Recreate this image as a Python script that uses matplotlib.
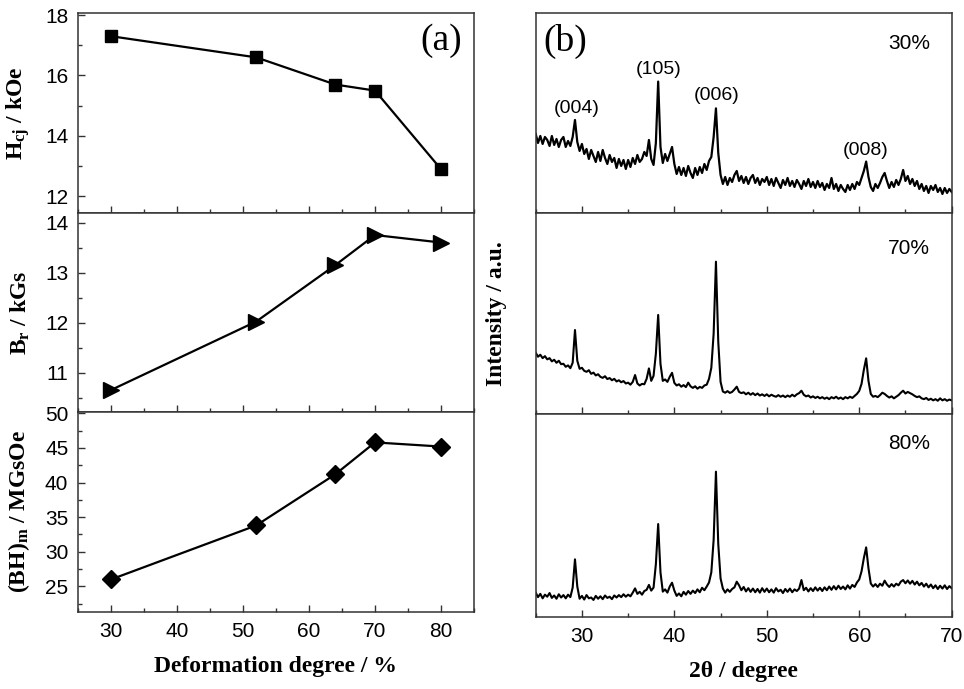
import numpy as np
import matplotlib
matplotlib.use("Agg")
import matplotlib.pyplot as plt
from matplotlib.ticker import MultipleLocator

plt.rcParams['font.family'] = ['Liberation Sans', 'DejaVu Sans']
plt.rcParams['mathtext.fontset'] = 'custom'
plt.rcParams['mathtext.rm'] = 'Liberation Serif:bold'
plt.rcParams['mathtext.it'] = 'Liberation Serif:bold:italic'
plt.rcParams['mathtext.bf'] = 'Liberation Serif:bold'

# (a) magnetic properties vs deformation degree
deformation = [30, 52, 64, 70, 80]
hcj = [17.3, 16.6, 15.7, 15.5, 12.9]          # kOe
br = [10.65, 12.02, 13.15, 13.75, 13.6]       # kGs
bh_max = [26.0, 33.8, 41.2, 45.8, 45.2]       # MGsOe

# (b) XRD patterns, 2theta from 25 to 70 deg in 0.25 deg steps
two_theta = np.arange(25.0, 70.001, 0.25)

xrd_30 = [
    39.5, 35.0, 38.5, 34.5, 38.0, 36.5, 33.5, 38.5, 34.0, 37.0, 33.0, 36.5, 38.0, 33.0, 36.0, 33.5, 38.0, 46.5, 35.5, 31.0,
    34.5, 29.5, 32.0, 27.0, 31.5, 28.5, 25.5, 30.5, 26.0, 31.5, 27.5, 24.5, 29.0, 25.5, 27.5, 22.5, 27.0, 23.5, 26.5, 22.0,
    26.5, 23.0, 27.5, 24.5, 29.0, 25.5, 27.0, 30.5, 28.5, 36.5, 27.0, 24.0, 35.0, 65.7, 33.0, 25.0, 29.5, 26.0, 29.5, 33.0,
    24.5, 19.5, 23.0, 19.0, 22.5, 18.5, 23.5, 20.0, 17.5, 22.5, 19.0, 23.0, 20.0, 24.5, 21.5, 26.0, 28.0, 38.0, 52.3, 30.0,
    19.0, 14.5, 18.0, 14.0, 17.5, 15.5, 19.0, 21.0, 16.0, 18.5, 15.0, 18.0, 14.5, 17.5, 19.0, 15.0, 17.5, 14.0, 17.0, 15.5,
    18.0, 14.0, 17.0, 13.5, 17.5, 15.0, 12.5, 16.5, 14.0, 17.5, 13.5, 16.0, 13.0, 16.5, 14.5, 12.0, 16.0, 13.5, 17.0, 13.0,
    15.5, 12.5, 16.0, 13.0, 15.0, 11.5, 14.5, 12.5, 17.5, 12.0, 14.5, 11.0, 14.0, 12.0, 10.5, 14.0, 11.5, 14.5, 12.0, 15.5,
    14.0, 17.5, 21.0, 25.7, 18.0, 13.0, 11.0, 14.5, 12.5, 15.0, 18.0, 20.0, 16.0, 12.5, 15.5, 13.0, 16.5, 14.0, 17.0, 21.5,
    16.0, 18.5, 14.5, 17.0, 13.5, 16.0, 12.0, 14.5, 11.0, 13.5, 10.0, 13.5, 11.5, 14.0, 10.5, 12.5, 9.5, 12.5, 10.0, 12.0,
    10.5,
]

xrd_70 = [
    30.5, 28.5, 29.5, 27.8, 28.8, 27.2, 27.8, 26.2, 27.0, 25.5, 26.5, 24.8, 25.0, 23.5, 24.2, 22.8, 25.5, 41.8, 26.5, 22.5,
    23.0, 21.5, 21.0, 21.8, 20.0, 20.6, 19.2, 19.8, 18.5, 18.0, 18.8, 17.4, 17.9, 16.8, 17.5, 16.2, 16.8, 15.8, 16.4, 15.2,
    15.6, 14.6, 16.0, 19.4, 15.2, 14.2, 15.0, 14.8, 17.5, 22.7, 16.5, 19.0, 30.0, 49.3, 25.0, 16.5, 17.2, 16.0, 18.5, 20.5,
    15.5, 14.2, 14.8, 13.6, 14.4, 13.4, 15.6, 13.8, 13.0, 13.8, 12.6, 13.5, 13.0, 14.2, 14.6, 17.5, 23.0, 40.0, 75.8, 36.0,
    16.0, 11.2, 10.6, 11.4, 10.5, 11.0, 12.2, 13.6, 11.0, 10.4, 10.8, 9.8, 10.6, 9.6, 10.4, 9.4, 10.2, 9.2, 9.8, 9.0,
    9.8, 8.8, 9.6, 9.0, 8.6, 9.4, 8.6, 9.2, 8.4, 9.2, 8.6, 9.6, 8.8, 9.8, 10.4, 11.6, 9.6, 8.8, 9.2, 8.2,
    8.8, 8.0, 8.6, 7.8, 8.4, 7.6, 8.2, 7.4, 8.4, 7.8, 8.6, 7.6, 8.2, 7.4, 8.4, 7.8, 8.6, 8.0, 9.0, 10.0,
    11.5, 15.0, 22.0, 27.7, 16.5, 10.0, 8.6, 9.0, 8.4, 9.4, 10.6, 10.0, 9.0, 8.2, 8.8, 7.8, 8.6, 9.4, 10.6, 11.6,
    10.2, 11.0, 10.4, 9.8, 9.0, 8.4, 8.8, 7.8, 7.4, 8.0, 7.0, 7.6, 6.8, 7.4, 6.6, 7.8, 6.8, 7.4, 6.6, 7.2,
    6.8,
]

xrd_80 = [
    12.0, 9.8, 11.4, 9.2, 11.0, 10.0, 11.8, 9.4, 10.6, 9.0, 11.2, 9.6, 10.8, 9.2, 11.0, 9.8, 14.5, 28.4, 15.0, 9.0,
    10.4, 8.6, 10.8, 9.2, 9.6, 8.4, 10.4, 9.0, 10.2, 8.8, 10.6, 9.4, 10.0, 8.8, 10.6, 9.6, 10.8, 9.8, 11.2, 10.0,
    11.0, 10.2, 12.0, 14.1, 11.4, 12.4, 11.0, 12.8, 13.4, 15.8, 13.0, 14.5, 26.0, 45.8, 22.0, 12.5, 13.6, 12.0, 15.0, 16.9,
    13.0, 10.4, 11.6, 10.2, 12.4, 11.0, 12.8, 11.4, 13.0, 11.8, 13.6, 12.2, 14.4, 13.2, 15.0, 17.0, 22.0, 38.0, 71.6, 36.0,
    19.0, 14.0, 12.0, 13.6, 12.4, 13.8, 14.6, 17.4, 15.6, 13.2, 14.8, 12.6, 14.2, 12.4, 14.0, 12.2, 13.8, 12.0, 14.2, 12.4,
    14.0, 12.2, 13.6, 12.0, 14.2, 12.6, 13.4, 11.8, 13.8, 12.4, 14.0, 12.2, 13.6, 12.8, 14.0, 18.2, 13.2, 14.4, 12.6, 14.2,
    12.8, 14.6, 13.0, 14.4, 12.8, 14.6, 13.2, 15.0, 13.4, 15.2, 13.6, 15.4, 13.8, 15.0, 13.6, 15.6, 14.0, 15.8, 14.8, 17.0,
    18.5, 22.5, 29.0, 34.3, 24.0, 16.5, 15.0, 16.2, 14.8, 16.4, 15.4, 17.9, 16.0, 14.8, 16.2, 15.0, 16.4, 15.6, 17.4, 18.2,
    16.6, 18.0, 16.4, 17.8, 16.0, 17.4, 15.6, 16.8, 15.0, 16.4, 14.6, 16.0, 14.2, 15.6, 13.8, 15.4, 14.0, 15.6, 13.8, 15.2,
    14.2,
]

xrd_labels = ['30%', '70%', '80%']
peak_names = ['(004)', '(105)', '(006)', '(008)']
peak_pos = [29.4, 38.3, 44.6, 60.7]
peak_label_y = [52.4, 71.5, 58.6, 31.1]

serif_bold = dict(family='Liberation Serif', weight='bold', size=17)
spine_col = '#333333'


def style_axes(ax):
    for s in ax.spines.values():
        s.set_color(spine_col)
        s.set_linewidth(1.1)
    ax.tick_params(which='both', direction='in', top=False, right=False,
                   labelsize=15, color=spine_col, pad=7)
    ax.tick_params(which='major', length=5, width=1.0)
    ax.tick_params(which='minor', length=3, width=1.0)


fig = plt.figure(figsize=(9.64, 6.89), dpi=100)

# ---- panel (a) ----
ax_h = fig.add_axes([0.0809, 0.6909, 0.4108, 0.2903])
ax_b = fig.add_axes([0.0809, 0.4020, 0.4108, 0.2888], sharex=ax_h)
ax_e = fig.add_axes([0.0809, 0.1118, 0.4108, 0.2903], sharex=ax_h)

ax_h.plot(deformation, hcj, color='black', lw=1.6, marker='s', ms=9)
ax_b.plot(deformation, br, color='black', lw=1.6, marker='>', ms=11)
ax_e.plot(deformation, bh_max, color='black', lw=1.6, marker='D', ms=9)

ax_h.set_ylim(11.45, 18.07)
ax_h.yaxis.set_major_locator(MultipleLocator(2))
ax_h.yaxis.set_minor_locator(MultipleLocator(1))
ax_b.set_ylim(10.21, 14.19)
ax_b.yaxis.set_major_locator(MultipleLocator(1))
ax_b.yaxis.set_minor_locator(MultipleLocator(0.5))
ax_e.set_ylim(21.3, 50.2)
ax_e.yaxis.set_major_locator(MultipleLocator(5))
ax_e.yaxis.set_minor_locator(MultipleLocator(2.5))

ax_e.set_xlim(25, 85)
ax_e.xaxis.set_major_locator(MultipleLocator(10))
ax_e.xaxis.set_minor_locator(MultipleLocator(5))

for ax in (ax_h, ax_b, ax_e):
    style_axes(ax)
for ax in (ax_h, ax_b):
    ax.tick_params(axis='x', labelbottom=False)

ax_h.set_ylabel(r'H$_{\mathrm{cj}}$ / kOe', **serif_bold)
ax_b.set_ylabel(r'B$_{\mathrm{r}}$ / kGs', **serif_bold)
ax_e.set_ylabel(r'(BH)$_{\mathrm{m}}$ / MGsOe', **serif_bold)
for ax in (ax_h, ax_b, ax_e):
    ax.yaxis.set_label_coords(-0.115, 0.5)
ax_e.set_xlabel('Deformation degree / %', labelpad=11, **serif_bold)

ax_h.text(0.917, 0.86, '(a)', transform=ax_h.transAxes, ha='center', va='center',
          family='Liberation Serif', size=27)

# ---- panel (b) ----
xrd_axes = [
    fig.add_axes([0.5557, 0.6909, 0.4315, 0.2903]),
    fig.add_axes([0.5557, 0.3991, 0.4315, 0.2917]),
    fig.add_axes([0.5557, 0.1045, 0.4315, 0.2946]),
]
label_pos = [0.8475, 0.826, 0.857]
line_widths = [1.6, 1.5, 1.5]

for ax, data, lab, ly, lw in zip(xrd_axes, [xrd_30, xrd_70, xrd_80], xrd_labels,
                                 label_pos, line_widths):
    ax.plot(two_theta, data, color='black', lw=lw)
    ax.set_xlim(25, 70)
    ax.set_ylim(0, 100)
    ax.xaxis.set_major_locator(MultipleLocator(10))
    ax.xaxis.set_minor_locator(MultipleLocator(5))
    ax.set_yticks([])
    style_axes(ax)
    ax.text(0.948, ly, lab, transform=ax.transAxes, ha='right', va='center', size=15)

for ax in xrd_axes[:2]:
    ax.tick_params(axis='x', labelbottom=False)

for name, px, py in zip(peak_names, peak_pos, peak_label_y):
    xrd_axes[0].text(px, py, name, ha='center', va='center', size=14)

xrd_axes[0].text(0.072, 0.86, '(b)', transform=xrd_axes[0].transAxes, ha='center',
                 va='center', family='Liberation Serif', size=27)

xrd_axes[1].set_ylabel('Intensity / a.u.', **serif_bold)
xrd_axes[1].yaxis.set_label_coords(-0.069, 0.5)
xrd_axes[2].set_xlabel('2θ / degree', labelpad=11, **serif_bold)

fig.savefig('out.png', dpi=100)
